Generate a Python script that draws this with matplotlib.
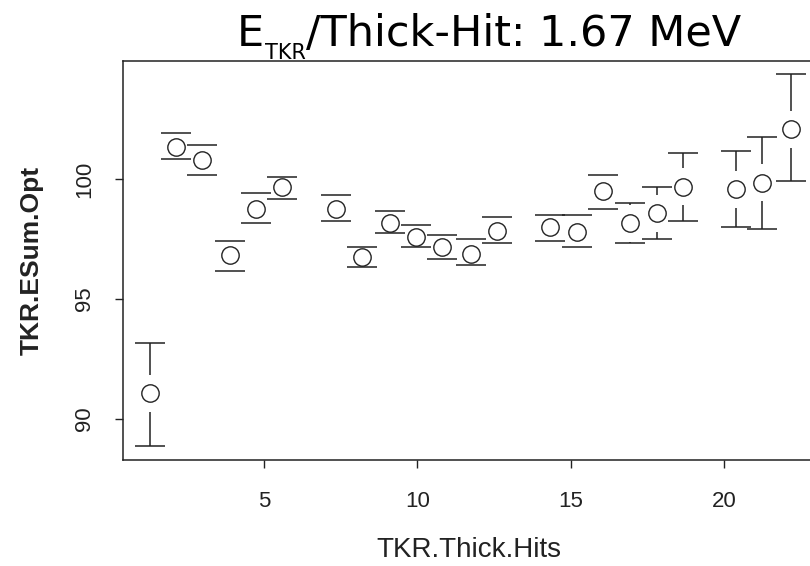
import matplotlib.pyplot as plt

# values
hits = [1.29, 2.13, 2.99, 3.89, 4.74, 5.60, 7.36, 8.20, 9.10, 9.95, 10.79,
        11.73, 12.58, 14.32, 15.19, 16.03, 16.94, 17.79, 18.64, 20.38, 21.23, 22.16]
esum = [91.07, 101.32, 100.79, 96.83, 98.75, 99.68, 98.74, 96.74, 98.18, 97.60, 97.15,
        96.88, 97.83, 97.99, 97.80, 99.50, 98.15, 98.57, 99.68, 99.57, 99.85, 102.07]
esum_hi = [93.15, 101.93, 101.42, 97.42, 99.40, 100.08, 99.33, 97.17, 98.67, 98.08, 97.67,
           97.49, 98.43, 98.50, 98.50, 100.15, 98.99, 99.68, 101.07, 101.18, 101.74, 104.36]
esum_lo = [88.89, 100.83, 100.17, 96.17, 98.17, 99.17, 98.25, 96.32, 97.74, 97.15, 96.65,
           96.42, 97.32, 97.42, 97.15, 98.74, 97.35, 97.50, 98.25, 97.99, 97.90, 99.92]

xticks = [5, 10, 15, 20]
yticks = [90, 95, 100]

plt.rcParams['font.family'] = ['Liberation Sans', 'DejaVu Sans']

W, H = 810, 566
fig = plt.figure(figsize=(W / 100, H / 100), dpi=100)
# plot region runs a little past the right edge of the picture
left, right, top, bottom = 123, 815, 61, 460
ax = fig.add_axes([left / W, 1 - bottom / H, (right - left) / W, (bottom - top) / H])

xlim = (0.41, 22.95)
ylim = (88.29, 104.92)
ax.set_xlim(xlim)
ax.set_ylim(ylim)

ppu_x = (right - left) / (xlim[1] - xlim[0])
ppu_y = (bottom - top) / (ylim[1] - ylim[0])
gap = 18.5 / ppu_y      # bar stops short of the circle
cap = 15 / ppu_x        # half width of the caps

col = '#222222'
for x, y, hi, lo in zip(hits, esum, esum_hi, esum_lo):
    if hi > y + gap:
        ax.vlines(x, y + gap, hi, color=col, lw=1.1)
    if lo < y - gap:
        ax.vlines(x, lo, y - gap, color=col, lw=1.1)
    ax.hlines([hi, lo], x - cap, x + cap, color=col, lw=1.1)

ax.plot(hits, esum, 'o', ms=12.5, mfc='none', mec=col, mew=1.0)

ax.set_xticks(xticks)
ax.set_yticks(yticks)
ax.tick_params(direction='out', length=6, width=1.0, labelsize=16, colors='#222222')
ax.tick_params(axis='x', pad=16)
ax.tick_params(axis='y', pad=14)
plt.setp(ax.get_yticklabels(), rotation=90, va='center')
for s in ax.spines.values():
    s.set_linewidth(1.1)
    s.set_color('#222222')

ax.set_xlabel('TKR.Thick.Hits', fontsize=20, color='#222222')
ax.xaxis.set_label_coords(0.5, (bottom - 550) / (bottom - top))
ax.xaxis.label.set_va('center')
ax.set_ylabel('TKR.ESum.Opt', fontsize=19, fontweight='bold', color='#222222')
ax.yaxis.set_label_coords((32 - left) / (right - left), 0.5)
ax.yaxis.label.set_va('center')

# title: E with subscript TKR, then the rest
t1 = fig.text(237 / W, 1 - 46 / H, 'E', fontsize=31, family='DejaVu Sans', va='baseline')
t2 = fig.text(0, 0, 'TKR', fontsize=15, family='DejaVu Sans', va='baseline')
fig.canvas.draw()
r = fig.canvas.get_renderer()
bb = t1.get_window_extent(r)
t2.set_position(((bb.x1 + 1) / W, 1 - 59 / H))
fig.canvas.draw()
bb2 = t2.get_window_extent(r)
fig.text((bb2.x1) / W, 1 - 46 / H, '/Thick-Hit: 1.67 MeV', fontsize=31,
         family='DejaVu Sans', va='baseline')

plt.savefig('out.png', dpi=100)
